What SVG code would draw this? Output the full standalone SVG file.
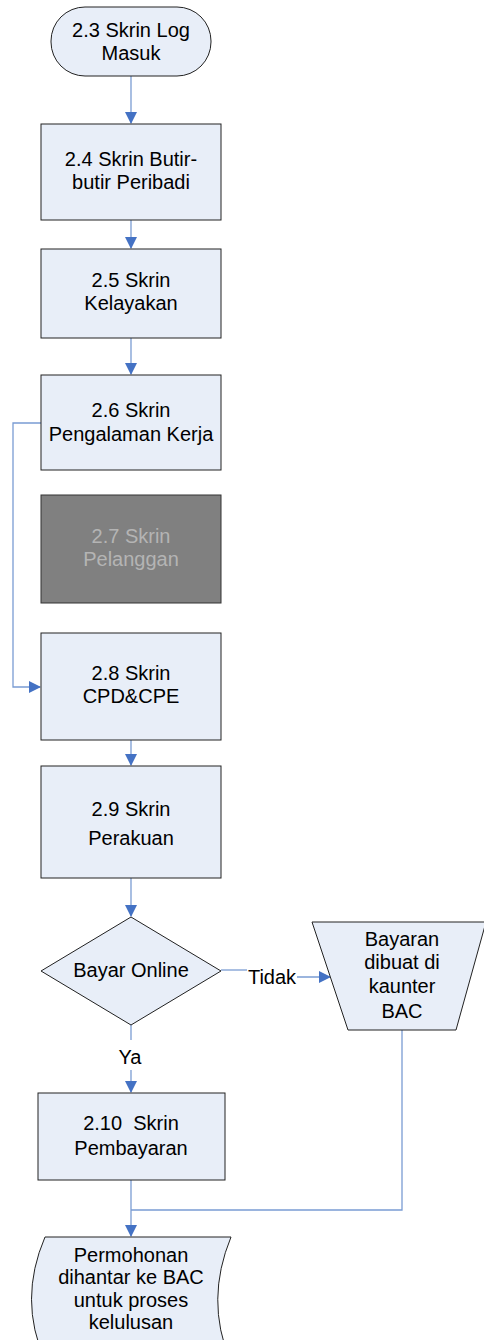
<svg xmlns="http://www.w3.org/2000/svg" width="484" height="1340" viewBox="0 0 484 1340">
<style>
.n{fill:#E8EEF8;stroke:#222;stroke-width:1}
.d{fill:#808080;stroke:#333;stroke-width:1}
text{font-family:"Liberation Sans",Arial,sans-serif;font-size:20px;fill:#000;text-anchor:middle}
.g{fill:#B4B4B4}
.c{fill:none;stroke:#7A9CD3;stroke-width:1.3}
</style>
<defs>
<marker id="a" markerWidth="12" markerHeight="12" refX="11" refY="6" orient="auto" markerUnits="userSpaceOnUse">
<path d="M0,0 L12,6 L0,12 Z" fill="#4472C4"/>
</marker>
</defs>
<g id="connectors">
<line class="c" x1="131" y1="76" x2="131" y2="123" marker-end="url(#a)"/>
<line class="c" x1="131" y1="220" x2="131" y2="248" marker-end="url(#a)"/>
<line class="c" x1="131" y1="338" x2="131" y2="374" marker-end="url(#a)"/>
<polyline class="c" points="41,423 13,423 13,687 40,687" marker-end="url(#a)"/>
<line class="c" x1="131" y1="740" x2="131" y2="765" marker-end="url(#a)"/>
<line class="c" x1="131" y1="878" x2="131" y2="916" marker-end="url(#a)"/>
<polyline class="c" points="221,970 247,970"/>
<polyline class="c" points="297,977 330,977" marker-end="url(#a)"/>
<line class="c" x1="131" y1="1025" x2="131" y2="1040"/>
<line class="c" x1="131" y1="1070" x2="131" y2="1092" marker-end="url(#a)"/>
<polyline class="c" points="402,1030 402,1210 131,1210"/>
<line class="c" x1="131" y1="1180" x2="131" y2="1236" marker-end="url(#a)"/>
<text x="272" y="984">Tidak</text>
<text x="130" y="1064">Ya</text>
</g>
<g id="n23">
<rect class="n" x="51" y="7" width="160" height="69" rx="34" ry="34"/>
<text x="131" y="37">2.3 Skrin Log</text>
<text x="131" y="60">Masuk</text>
</g>
<g id="n24">
<rect class="n" x="41" y="124" width="180" height="96"/>
<text x="131" y="166">2.4 Skrin Butir-</text>
<text x="131" y="189">butir Peribadi</text>
</g>
<g id="n25">
<rect class="n" x="41" y="249" width="180" height="89"/>
<text x="131" y="287">2.5 Skrin</text>
<text x="131" y="310">Kelayakan</text>
</g>
<g id="n26">
<rect class="n" x="41" y="375" width="180" height="95"/>
<text x="131" y="417">2.6 Skrin</text>
<text x="131" y="441">Pengalaman Kerja</text>
</g>
<g id="n27">
<rect class="d" x="41" y="495" width="180" height="108"/>
<text class="g" x="131" y="543">2.7 Skrin</text>
<text class="g" x="131" y="566">Pelanggan</text>
</g>
<g id="n28">
<rect class="n" x="41" y="633" width="180" height="107"/>
<text x="131" y="680">2.8 Skrin</text>
<text x="131" y="703">CPD&amp;CPE</text>
</g>
<g id="n29">
<rect class="n" x="41" y="766" width="180" height="112"/>
<text x="131" y="816">2.9 Skrin</text>
<text x="131" y="845">Perakuan</text>
</g>
<g id="dec">
<polygon class="n" points="131,917 221,971 131,1025 41,971"/>
<text x="131" y="977">Bayar Online</text>
</g>
<g id="bac">
<polygon class="n" points="312,922 486,922 456,1030 348,1030"/>
<text x="402" y="946">Bayaran</text>
<text x="402" y="969">dibuat di</text>
<text x="402" y="993">kaunter</text>
<text x="402" y="1018">BAC</text>
</g>
<g id="n210">
<rect class="n" x="38" y="1093" width="187" height="87"/>
<text x="131" y="1130" xml:space="preserve">2.10  Skrin</text>
<text x="131" y="1155">Pembayaran</text>
</g>
<g id="end">
<path class="n" d="M45,1237 L231,1237 Q205,1300 230,1360 L45,1360 Q18,1300 45,1237 Z"/>
<text x="131" y="1262">Permohonan</text>
<text x="131" y="1284">dihantar ke BAC</text>
<text x="131" y="1307">untuk proses</text>
<text x="131" y="1329">kelulusan</text>
</g>
</svg>
